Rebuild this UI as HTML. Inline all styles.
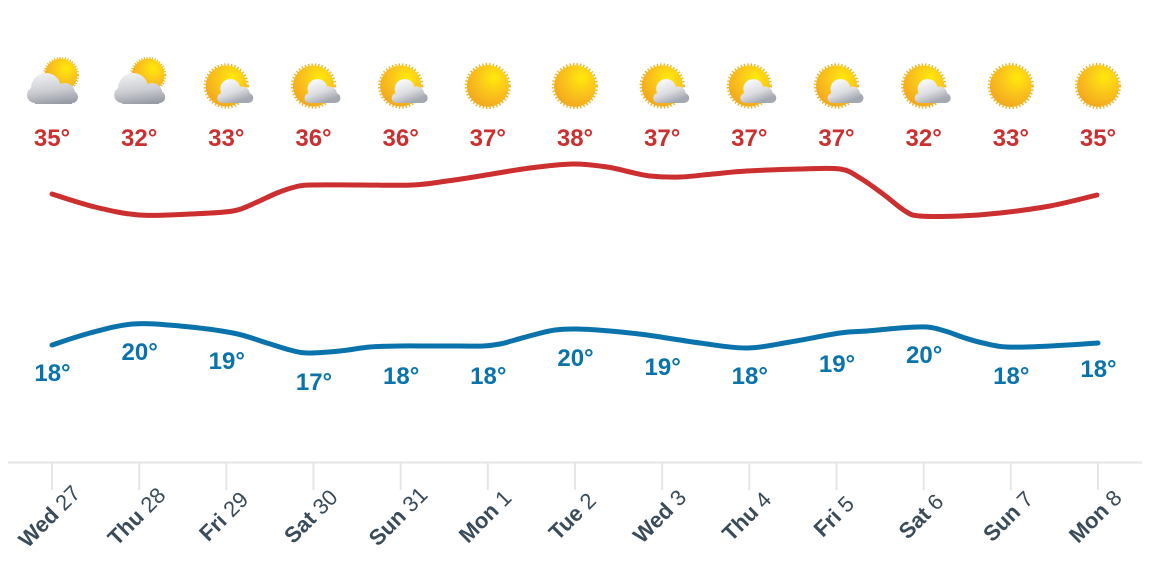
<!DOCTYPE html>
<html>
<head>
<meta charset="utf-8">
<style>
  html,body{margin:0;padding:0;background:#fff;}
  svg{display:block;}
  .hi{font:bold 24px "Liberation Sans",Arial,sans-serif;fill:#cc2f2f;}
  .lo{font:bold 24px "Liberation Sans",Arial,sans-serif;fill:#0b73ab;}
  .xl{font:22px "Liberation Sans",Arial,sans-serif;fill:#3a4b59;}
</style>
</head>
<body>
<svg width="1167" height="574" viewBox="0 0 1167 574" xmlns="http://www.w3.org/2000/svg">
  <defs>
    <radialGradient id="sunG" cx="0.65" cy="0.3" r="0.75">
      <stop offset="0" stop-color="#ffe90a"/>
      <stop offset="0.55" stop-color="#fac21c"/>
      <stop offset="1" stop-color="#f2a71e"/>
    </radialGradient>
    <linearGradient id="cloudB" gradientUnits="userSpaceOnUse" x1="0" y1="-5" x2="8" y2="17">
      <stop offset="0" stop-color="#f8f8f9"/>
      <stop offset="0.55" stop-color="#dcdde1"/>
      <stop offset="1" stop-color="#a4a8b0"/>
    </linearGradient>
    <linearGradient id="cloudA" gradientUnits="userSpaceOnUse" x1="0" y1="-13" x2="4" y2="18">
      <stop offset="0" stop-color="#eeeff1"/>
      <stop offset="0.55" stop-color="#cbcdd2"/>
      <stop offset="1" stop-color="#979ba4"/>
    </linearGradient>
    <g id="sun">
      <circle r="19.5" fill="none" stroke="#f3b21e" stroke-width="3" stroke-dasharray="1.2 1.9"/>
      <circle r="19" fill="url(#sunG)"/>
    </g>
    <g id="cB" fill="url(#cloudB)">
      <circle cx="4" cy="3" r="10"/>
      <circle cx="16" cy="8" r="7.5"/>
      <circle cx="22" cy="12" r="5"/>
      <circle cx="-4" cy="12" r="5"/>
      <rect x="-4" y="6" width="26" height="11"/>
    </g>
    <g id="iA">
      <use href="#sun" transform="translate(9,-11) scale(0.86)"/>
      <g fill="url(#cloudA)">
        <circle cx="-6" cy="2" r="15"/>
        <circle cx="13" cy="7" r="10"/>
        <circle cx="-17" cy="9" r="8"/>
        <circle cx="20" cy="11" r="6"/>
        <rect x="-17" y="8" width="37" height="10"/>
      </g>
    </g>
    <g id="iB">
      <use href="#sun" transform="scale(1.08)"/>
      <use href="#cB"/>
    </g>
    <g id="iC">
      <use href="#sun" transform="scale(1.1)"/>
    </g>
  </defs>

  <!-- icons -->
  <use href="#iA" transform="translate(52,86)"/>
  <use href="#iA" transform="translate(139.2,86)"/>
  <use href="#iB" transform="translate(226.3,86)"/>
  <use href="#iB" transform="translate(313.5,86)"/>
  <use href="#iB" transform="translate(400.7,86)"/>
  <use href="#iC" transform="translate(487.8,86)"/>
  <use href="#iC" transform="translate(575,86)"/>
  <use href="#iB" transform="translate(662.2,86)"/>
  <use href="#iB" transform="translate(749.3,86)"/>
  <use href="#iB" transform="translate(836.5,86)"/>
  <use href="#iB" transform="translate(923.7,86)"/>
  <use href="#iC" transform="translate(1010.8,86)"/>
  <use href="#iC" transform="translate(1098,86)"/>

  <!-- high labels -->
  <g class="hi" text-anchor="middle">
    <text x="52" y="146">35°</text>
    <text x="139.2" y="146">32°</text>
    <text x="226.3" y="146">33°</text>
    <text x="313.5" y="146">36°</text>
    <text x="400.7" y="146">36°</text>
    <text x="487.8" y="146">37°</text>
    <text x="575" y="146">38°</text>
    <text x="662.2" y="146">37°</text>
    <text x="749.3" y="146">37°</text>
    <text x="836.5" y="146">37°</text>
    <text x="923.7" y="146">32°</text>
    <text x="1010.8" y="146">33°</text>
    <text x="1098" y="146">35°</text>
  </g>

  <!-- lines -->
  <polyline class="s" fill="none" stroke="#cc2f2f" stroke-width="5" stroke-linecap="round" stroke-linejoin="round"
    points="52,194 95,207 139,215 190,214 233,211 255,203 277,193 295,187 310,185 360,185 413,185 447,181 480,176 530,168 573,164 607,167 630,172 650,176 680,177 713,174 747,171 800,169 840,169 860,178 883,194 905,211 920,216 960,216 1000,213 1050,206 1097,195"/>
  <polyline class="s" fill="none" stroke="#0b73ab" stroke-width="5" stroke-linecap="round" stroke-linejoin="round"
    points="52,345 90,333 133,324 180,326 233,333 267,343 290,350 307,353 340,351 370,347 400,346 430,346 460,346 483,346 500,344 515,340 533,335 555,330 577,329 610,331 647,335 700,343 747,348 790,342 840,333 867,331 900,328 927,327 945,331 965,338 983,343 1007,347 1050,346 1098,343"/>

  <!-- low labels -->
  <g class="lo" text-anchor="middle">
    <text x="52.5" y="381">18°</text>
    <text x="139.7" y="360">20°</text>
    <text x="226.8" y="369">19°</text>
    <text x="314" y="390">17°</text>
    <text x="401.2" y="384">18°</text>
    <text x="488.3" y="384">18°</text>
    <text x="575.5" y="366">20°</text>
    <text x="662.7" y="375">19°</text>
    <text x="749.8" y="384">18°</text>
    <text x="837" y="372">19°</text>
    <text x="924.2" y="363">20°</text>
    <text x="1011.3" y="384">18°</text>
    <text x="1098.5" y="377">18°</text>
  </g>

  <!-- x axis -->
  <line x1="8" y1="462.5" x2="1142" y2="462.5" stroke="#e6e6e6" stroke-width="2"/>
  <g stroke="#e6e6e6" stroke-width="2">
    <line x1="52" y1="463" x2="52" y2="490"/>
    <line x1="139.2" y1="463" x2="139.2" y2="490"/>
    <line x1="226.3" y1="463" x2="226.3" y2="490"/>
    <line x1="313.5" y1="463" x2="313.5" y2="490"/>
    <line x1="400.7" y1="463" x2="400.7" y2="490"/>
    <line x1="487.8" y1="463" x2="487.8" y2="490"/>
    <line x1="575" y1="463" x2="575" y2="490"/>
    <line x1="662.2" y1="463" x2="662.2" y2="490"/>
    <line x1="749.3" y1="463" x2="749.3" y2="490"/>
    <line x1="836.5" y1="463" x2="836.5" y2="490"/>
    <line x1="923.7" y1="463" x2="923.7" y2="490"/>
    <line x1="1010.8" y1="463" x2="1010.8" y2="490"/>
    <line x1="1098" y1="463" x2="1098" y2="490"/>
  </g>

  <g class="xl" text-anchor="middle">
    <text transform="translate(49,516) rotate(-45)" y="8"><tspan font-weight="bold">Wed</tspan> 27</text>
    <text transform="translate(136.2,516) rotate(-45)" y="8"><tspan font-weight="bold">Thu</tspan> 28</text>
    <text transform="translate(223.3,516) rotate(-45)" y="8"><tspan font-weight="bold">Fri</tspan> 29</text>
    <text transform="translate(310.5,516) rotate(-45)" y="8"><tspan font-weight="bold">Sat</tspan> 30</text>
    <text transform="translate(397.7,516) rotate(-45)" y="8"><tspan font-weight="bold">Sun</tspan> 31</text>
    <text transform="translate(484.8,516) rotate(-45)" y="8"><tspan font-weight="bold">Mon</tspan> 1</text>
    <text transform="translate(572,516) rotate(-45)" y="8"><tspan font-weight="bold">Tue</tspan> 2</text>
    <text transform="translate(659.2,516) rotate(-45)" y="8"><tspan font-weight="bold">Wed</tspan> 3</text>
    <text transform="translate(746.3,516) rotate(-45)" y="8"><tspan font-weight="bold">Thu</tspan> 4</text>
    <text transform="translate(833.5,516) rotate(-45)" y="8"><tspan font-weight="bold">Fri</tspan> 5</text>
    <text transform="translate(920.7,516) rotate(-45)" y="8"><tspan font-weight="bold">Sat</tspan> 6</text>
    <text transform="translate(1007.8,516) rotate(-45)" y="8"><tspan font-weight="bold">Sun</tspan> 7</text>
    <text transform="translate(1095,516) rotate(-45)" y="8"><tspan font-weight="bold">Mon</tspan> 8</text>
  </g>
</svg>
<script>
(function(){
  var NS='http://www.w3.org/2000/svg';
  var pls=document.querySelectorAll('polyline.s');
  for(var k=0;k<pls.length;k++){
    var pl=pls[k];
    var p=pl.getAttribute('points').trim().split(/\s+/).map(function(s){var a=s.split(',');return [+a[0],+a[1]];});
    var d='M'+p[0][0]+','+p[0][1];
    for(var i=0;i<p.length-1;i++){
      var p0=p[i-1]||p[i],p1=p[i],p2=p[i+1],p3=p[i+2]||p2;
      var c1x=p1[0]+(p2[0]-p0[0])/6,c1y=p1[1]+(p2[1]-p0[1])/6;
      var c2x=p2[0]-(p3[0]-p1[0])/6,c2y=p2[1]-(p3[1]-p1[1])/6;
      d+=' C'+c1x.toFixed(1)+','+c1y.toFixed(1)+' '+c2x.toFixed(1)+','+c2y.toFixed(1)+' '+p2[0]+','+p2[1];
    }
    var path=document.createElementNS(NS,'path');
    path.setAttribute('d',d);
    ['fill','stroke','stroke-width','stroke-linecap','stroke-linejoin'].forEach(function(a){path.setAttribute(a,pl.getAttribute(a));});
    pl.parentNode.replaceChild(path,pl);
  }
})();
</script>
</body>
</html>
